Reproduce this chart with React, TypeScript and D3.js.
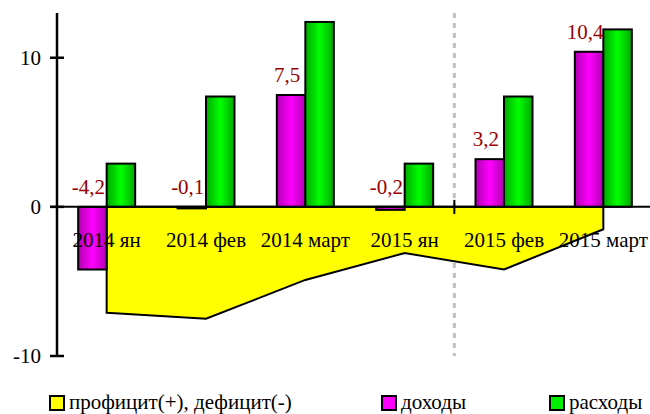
import React from "react";
import * as d3 from "d3";

const categories = ["2014 ян", "2014 фев", "2014 март", "2015 ян", "2015 фев", "2015 март"];
const income = [-4.2, -0.1, 7.5, -0.2, 3.2, 10.4];
const expenses = [2.9, 7.4, 12.4, 2.9, 7.4, 11.9];
const balance = [-7.1, -7.5, -4.9, -3.1, -4.2, -1.5];
const yTicks = [-10, 0, 10];
const legendItems = [
  { label: "профицит(+), дефицит(-)", fill: "#ffff00", x: 50 },
  { label: "доходы", fill: "#ff00ff", x: 382 },
  { label: "расходы", fill: "#00ee00", x: 550 },
];

const W = 650;
const H = 414;
const font = "'Liberation Serif', 'Times New Roman', serif";
const fs = 21;

export default function App() {
  const x = d3.scaleBand<string>().domain(categories).range([57, 653]).padding(0);
  const y = d3.scaleLinear().domain([-10, 13]).range([356, 13]);
  const barW = 28.5;
  const cx = (c: string) => (x(c) ?? 0) + x.bandwidth() / 2;
  // comma decimal, plain hyphen for minus
  const fmt = (v: number) => v.toFixed(1).replace(".", ",");

  const area = d3
    .area<number>()
    .x((_, i) => cx(categories[i]))
    .y0(y(0))
    .y1((d) => y(d));

  const splitX = x(categories[4]) ?? 0;

  return (
    <svg width={W} height={H} style={{ position: "absolute", left: 0, top: 0 }} fontFamily={font}>
      <defs>
        <linearGradient id="gMag" x1="0" x2="1" y1="0" y2="0">
          <stop offset="0" stopColor="#b000b0" />
          <stop offset="0.5" stopColor="#ff00ff" />
          <stop offset="1" stopColor="#b000b0" />
        </linearGradient>
        <linearGradient id="gGreen" x1="0" x2="1" y1="0" y2="0">
          <stop offset="0" stopColor="#00a800" />
          <stop offset="0.5" stopColor="#00ff00" />
          <stop offset="1" stopColor="#00a800" />
        </linearGradient>
      </defs>
      <rect width={W} height={H} fill="#fff" />

      {/* separator */}
      <line x1={splitX} x2={splitX} y1={y(13)} y2={y(-10)} stroke="#c0c0c0" strokeWidth={3} strokeDasharray="5,5" />

      {/* balance area */}
      <path d={area(balance) ?? ""} fill="#ffff00" stroke="#000" strokeWidth={2} strokeLinejoin="miter" />

      {/* bars */}
      {categories.map((c, i) => {
        const m = income[i];
        const e = expenses[i];
        return (
          <g key={c}>
            <rect x={cx(c) - barW} y={Math.min(y(m), y(0))} width={barW} height={Math.max(Math.abs(y(m) - y(0)), 1)} fill="url(#gMag)" stroke="#000" strokeWidth={2} />
            <rect x={cx(c)} y={Math.min(y(e), y(0))} width={barW} height={Math.abs(y(e) - y(0))} fill="url(#gGreen)" stroke="#000" strokeWidth={2} />
          </g>
        );
      })}

      {/* zero line */}
      <line x1={50} x2={W} y1={y(0)} y2={y(0)} stroke="#000" strokeWidth={2} />
      <line x1={splitX} x2={splitX} y1={y(0) - 7} y2={y(0) + 7} stroke="#000" strokeWidth={2} />

      {/* y axis */}
      <line x1={57} x2={57} y1={y(13)} y2={y(-10)} stroke="#000" strokeWidth={2.5} />
      {yTicks.map((t) => (
        <g key={t}>
          <line x1={50} x2={64} y1={y(t)} y2={y(t)} stroke="#000" strokeWidth={2.5} />
          <text x={41} y={y(t)} dy="0.35em" textAnchor="end" fontSize={fs}>
            {t}
          </text>
        </g>
      ))}

      {/* category labels */}
      {categories.map((c) => (
        <text key={c} x={cx(c)} y={247} textAnchor="middle" fontSize={fs}>
          {c}
        </text>
      ))}

      {/* value labels */}
      {categories.map((c, i) => {
        const m = income[i];
        const top = m > 0 ? y(m) : y(0);
        return (
          <text key={c} x={cx(c) - barW / 2 - 4} y={top - 13} textAnchor="middle" fontSize={fs} fill="#990000">
            {fmt(m)}
          </text>
        );
      })}

      {/* legend */}
      {legendItems.map((l) => (
        <g key={l.label}>
          <rect x={l.x} y={396} width={14} height={14} fill={l.fill} stroke="#000" strokeWidth={2} />
          <text x={l.x + 19} y={409} fontSize={fs}>
            {l.label}
          </text>
        </g>
      ))}
    </svg>
  );
}
